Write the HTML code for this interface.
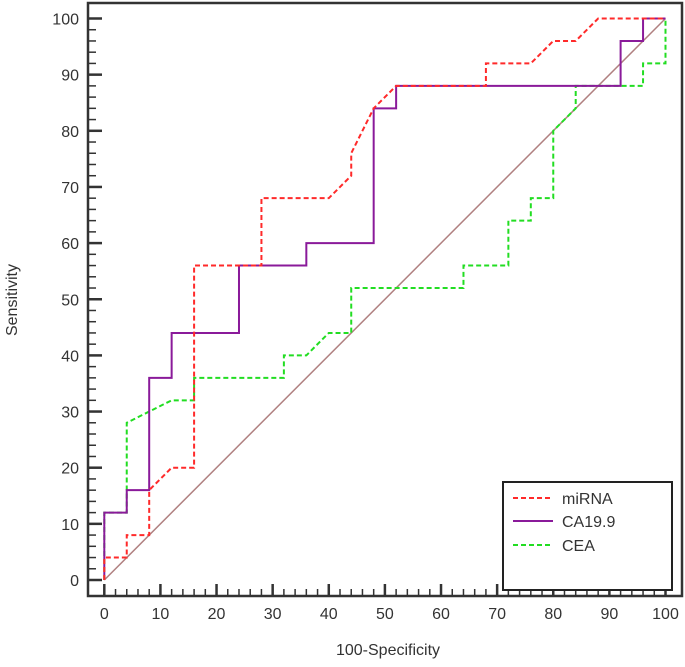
<!DOCTYPE html>
<html><head><meta charset="utf-8"><style>
body{margin:0;background:#fff;}
svg text{font-family:"Liberation Sans",sans-serif;fill:#333;}
</style></head><body>
<svg id="c" width="685" height="662"></svg>
<script>
const xTicks=[0,10,20,30,40,50,60,70,80,90,100];
const yTicks=[0,10,20,30,40,50,60,70,80,90,100];
const mirnaX=[0,0,4,4,8,8,12,16,16,28,28,40,44,44,48,52,68,68,76,80,84,88,100];
const mirnaY=[0,4,4,8,8,16,20,20,56,56,68,68,72,76,84,88,88,92,92,96,96,100,100];
const ca199X=[0,0,4,4,8,8,12,12,24,24,36,36,48,48,52,52,92,92,96,96,100];
const ca199Y=[0,12,12,16,16,36,36,44,44,56,56,60,60,84,84,88,88,96,96,100,100];
const ceaX=[0,0,4,4,12,16,16,32,32,36,40,44,44,64,64,72,72,76,76,80,80,84,84,96,96,100,100];
const ceaY=[0,12,12,28,32,32,36,36,40,40,44,44,52,52,56,56,64,64,68,68,80,84,88,88,92,92,100];
const NS="http://www.w3.org/2000/svg";
const svg=document.getElementById('c');
const sx=v=>104.3+v*5.612;
const sy=v=>580-v*5.615;
function mk(t,a){const e=document.createElementNS(NS,t);for(const k in a)e.setAttribute(k,a[k]);svg.appendChild(e);return e;}
let r=mk('rect',{x:88,y:3,width:594,height:593,fill:'none',stroke:'#333','stroke-width':2.5});


// minor ticks
for(let v=0;v<=100;v+=2){
  const maj=v%10===0;
  let t=mk('line',{x1:sx(v),x2:sx(v),y1:596,y2:596-(maj?12:7),stroke:'#333','stroke-width':maj?2.5:1.5});
  
  
  let u=mk('line',{x1:88,x2:88+(maj?14:8),y1:sy(v),y2:sy(v),stroke:'#333','stroke-width':maj?2.5:1.5});
  
  
}
xTicks.forEach(v=>{let t=mk('text',{x:sx(v),y:619,'font-size':16,'text-anchor':'middle'});t.textContent=v;
  
  });
yTicks.forEach(v=>{let t=mk('text',{x:79,y:sy(v)+6,'font-size':16,'text-anchor':'end'});t.textContent=v;
  
  });
let xl=mk('text',{x:388,y:655,'font-size':16,'text-anchor':'middle'});xl.textContent='100-Specificity';


let yl=mk('text',{x:17,y:300,'font-size':16,'text-anchor':'middle',transform:'rotate(-90 17 300)'});yl.textContent='Sensitivity';


let d=mk('line',{x1:sx(0),y1:sy(0),x2:sx(100),y2:sy(100),stroke:'#b08080','stroke-width':1.5});


function series(X,Y,col,dash,name){
  const p=X.map((x,i)=>sx(x)+','+sy(Y[i])).join(' ');
  let e=mk('polyline',{points:p,fill:'none',stroke:col,'stroke-width':2,'stroke-dasharray':dash});
  
  
}
series(ceaX,ceaY,'#22dd22','5,3','cea-line');
series(ca199X,ca199Y,'#8a1a9a','none','ca199-line');
series(mirnaX,mirnaY,'#ff2a2a','5,3','mirna-line');
let lg=mk('rect',{x:503,y:482,width:169,height:108,fill:'#fff',stroke:'#222','stroke-width':2});


[['miRNA','#ff2a2a','5,3',498],['CA19.9','#8a1a9a','none',521],['CEA','#22dd22','5,3',545]].forEach(a=>{
  let l=mk('line',{x1:513,x2:553,y1:a[3],y2:a[3],stroke:a[1],'stroke-width':2,'stroke-dasharray':a[2]});
  
  
  let t=mk('text',{x:562,y:a[3]+6,'font-size':16});t.textContent=a[0];
  
  
});
</script>
</body></html>
